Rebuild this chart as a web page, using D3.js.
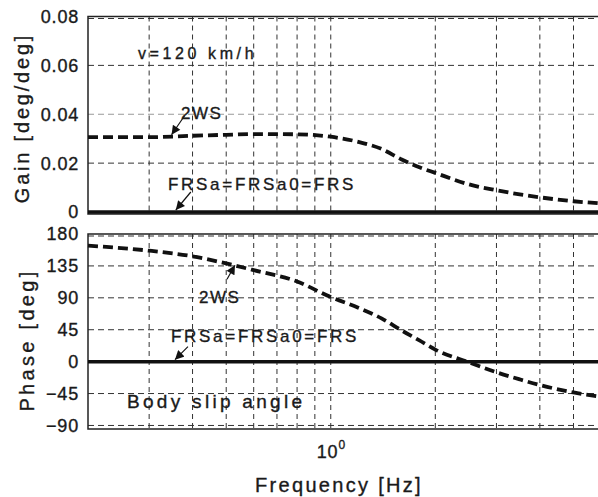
<!DOCTYPE html>
<html>
<head>
<meta charset="utf-8">
<script src="https://cdn.jsdelivr.net/npm/d3@7"></script>
<style>
body{margin:0;background:#fff}
text{font-family:"Liberation Sans",Arial,sans-serif;fill:#1a1a1a;stroke:#1a1a1a;stroke-width:0.35px}
</style>
</head>
<body>
<svg id="svg1" width="598" height="497"></svg>
<script>
// frequency points [Hz]
var freqs = [0.2, 0.3, 0.4, 0.5, 0.6, 0.8, 1.0, 1.2, 1.4, 1.6, 1.8, 2.0, 2.5, 3.0, 3.5, 4.0, 5.0, 6.0]
var gain2WS = [0.0306, 0.0306, 0.0312, 0.0316, 0.0319, 0.0318, 0.0308, 0.0287, 0.0258, 0.0215, 0.0183, 0.0160, 0.0113, 0.0089, 0.0072, 0.0060, 0.0044, 0.0035]
var phase2WS = [163.5, 156.5, 148.5, 138.5, 129, 113, 91, 76, 61, 44, 30, 17, -1, -15, -25, -33, -43.5, -49.5]
var gainFRS = [0, 0, 0, 0, 0, 0, 0, 0, 0, 0, 0, 0, 0, 0, 0, 0, 0, 0]
var phaseFRS = [0, 0, 0, 0, 0, 0, 0, 0, 0, 0, 0, 0, 0, 0, 0, 0, 0, 0]

var gainTicks = [0, 0.02, 0.04, 0.06, 0.08]
var gainTickLabels = ["0", "0.02", "0.04", "0.06", "0.08"]
var phaseTicks = [-90, -45, 0, 45, 90, 135, 180]
var phaseTickLabels = ["\u221290", "\u221245", "0", "45", "90", "135", "180"]
var gridFreqs = [0.3, 0.4, 0.5, 0.6, 0.7, 0.8, 0.9, 1, 2, 3, 4, 5]

var svg = d3.select("#svg1")
var left = 88, right = 601

var x = d3.scaleLog().domain([0.2, 6]).range([left, right])
var yG = d3.scaleLinear().domain([0, 0.08]).range([212, 16.5])
var yP = d3.scaleLinear().domain([-95, 180]).range([429, 234])

svg.append("defs").append("marker")
    .attr("id", "ah")
    .attr("viewBox", "0 0 10 10")
    .attr("refX", 10).attr("refY", 5)
    .attr("markerWidth", 10).attr("markerHeight", 9)
    .attr("markerUnits", "userSpaceOnUse")
    .attr("orient", "auto")
    .append("path").attr("d", "M0,0L10,5L0,10z").attr("fill", "#111")

function panel(y, ticks, labels, top, bottom, lightTick){
    var g = svg.append("g")
    // horizontal grid
    g.selectAll("line.hg")
        .data(ticks)
        .enter().append("line")
        .attr("x1", left).attr("x2", right)
        .attr("y1", function(d){ return y(d) + (d == y.domain()[1] ? 2 : 0)})
        .attr("y2", function(d){ return y(d) + (d == y.domain()[1] ? 2 : 0)})
        .attr("stroke", function(d){ return d === lightTick ? "#999" : "#333"})
        .attr("stroke-width", 1)
        .attr("stroke-dasharray", "6,4")
    // vertical grid
    g.selectAll("line.vg")
        .data(gridFreqs)
        .enter().append("line")
        .attr("x1", function(d){ return x(d)}).attr("x2", function(d){ return x(d)})
        .attr("y1", top).attr("y2", bottom)
        .attr("stroke", "#333")
        .attr("stroke-width", 1)
        .attr("stroke-dasharray", "5,4")
    // frame
    g.append("path")
        .attr("d", "M" + right + "," + top + "H" + left + "V" + bottom + "H" + right)
        .attr("fill", "none").attr("stroke", "#222").attr("stroke-width", 1.5)
    // tick labels
    g.selectAll("text.tl")
        .data(ticks)
        .enter().append("text")
        .attr("x", 79)
        .attr("y", function(d){ return y(d)})
        .attr("dy", "0.36em")
        .attr("text-anchor", "end")
        .attr("font-size", 18)
        .attr("letter-spacing", 0.8)
        .text(function(d, i){ return labels[i]})
    return g
}

panel(yG, gainTicks, gainTickLabels, 16.5, 214, 0.04)
panel(yP, phaseTicks, phaseTickLabels, 234, 429, null)

function curve(y, vals, dashed){
    var line = d3.line()
        .x(function(d, i){ return x(freqs[i])})
        .y(function(d){ return y(d)})
        .curve(d3.curveMonotoneX)
    svg.append("path")
        .datum(vals)
        .attr("d", line)
        .attr("fill", "none")
        .attr("stroke", "#111")
        .attr("stroke-width", dashed ? 3.8 : 3.5)
        .attr("stroke-dasharray", dashed ? "10,5" : null)
}

curve(yG, gainFRS, false)
curve(yG, gain2WS, true)
curve(yP, phaseFRS, false)
curve(yP, phase2WS, true)

// annotations: arrow tip in data coordinates, tail offset in px
var arrows = [
    {y: yG, f: 0.348, v: 0.0308, dx: 13, dy: -19},
    {y: yG, f: 0.358, v: 0, dx: 15, dy: -18},
    {y: yP, f: 0.530, v: 138.7, dx: -8, dy: 18},
    {y: yP, f: 0.356, v: 0, dx: 13, dy: -13}
]
svg.selectAll("line.arr")
    .data(arrows)
    .enter().append("line")
    .attr("x1", function(d){ return x(d.f) + d.dx})
    .attr("y1", function(d){ return d.y(d.v) - 2 + d.dy})
    .attr("x2", function(d){ return x(d.f)})
    .attr("y2", function(d){ return d.y(d.v) - (d.dy < 0 ? 2 : -2)})
    .attr("stroke", "#111")
    .attr("stroke-width", 1.2)
    .attr("marker-end", "url(#ah)")

function label(tx, px, py, size, ls){
    svg.append("text")
        .attr("x", px).attr("y", py)
        .attr("font-size", size)
        .attr("letter-spacing", ls)
        .text(tx)
}
label("v=120 km/h", 138, 59, 16, 3.6)
label("2WS", 181, 119, 17, 1.5)
label("FRSa=FRSa0=FRS", 168, 190, 17, 2.7)
label("2WS", 199, 303, 17, 1.5)
label("FRSa=FRSa0=FRS", 171, 341.5, 17, 2.7)
label("Body slip angle", 127, 408, 19, 3.3)

// x axis tick label 10^0
var xt = svg.append("text")
    .attr("x", x(1) - 14).attr("y", 458)
    .attr("font-size", 18)
    .attr("letter-spacing", 0.8)
xt.append("tspan").text("10")
xt.append("tspan").attr("font-size", 12).attr("dy", -9).text("0")

svg.append("text")
    .attr("x", 339).attr("y", 492)
    .attr("text-anchor", "middle")
    .attr("font-size", 20)
    .attr("letter-spacing", 2.3)
    .text("Frequency [Hz]")

svg.append("text")
    .attr("transform", "translate(29,118) rotate(-90)")
    .attr("text-anchor", "middle")
    .attr("font-size", 20)
    .attr("letter-spacing", 2.8)
    .text("Gain [deg/deg]")

svg.append("text")
    .attr("transform", "translate(34,340) rotate(-90)")
    .attr("text-anchor", "middle")
    .attr("font-size", 20)
    .attr("letter-spacing", 3.3)
    .text("Phase [deg]")
</script>
</body>
</html>
